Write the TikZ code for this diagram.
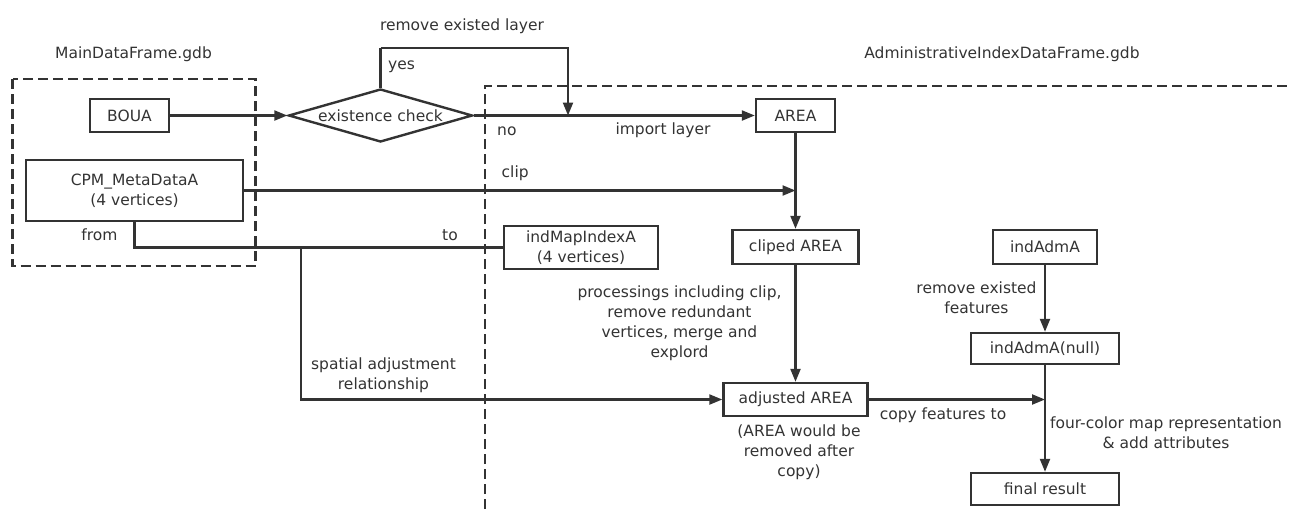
\documentclass[tikz,border=0pt]{standalone}
\usepackage{fontspec}
\setmainfont{DejaVu Sans}
\usetikzlibrary{arrows.meta,shapes.geometric}
\definecolor{ink}{HTML}{333333}
\begin{document}
\begin{tikzpicture}[x=1pt,y=-1pt,
  font=\fontsize{15.5}{20}\selectfont,
  every node/.style={text=ink},
  box/.style={draw=ink,line width=2.4pt,inner sep=0pt,align=center},
  conn/.style={draw=ink,line width=2.2pt},
  arr/.style={conn,-{Triangle[length=13pt,width=10pt]}},
  lbl/.style={inner sep=0pt,align=center},
  frame/.style={draw=ink,line width=2.2pt,dash pattern=on 10pt off 5pt}]
\useasboundingbox (0,0) rectangle (1291,509);
% dashed containers
\draw[frame] (12.5,79) rectangle (255.5,266);
\draw[frame] (485,509) -- (485,86) -- (1291,86);
% nodes
\node[box,minimum width=79,minimum height=33] (boua) at (129.5,115.5) {BOUA};
\node[draw=ink,line width=2.4pt,diamond,inner sep=0pt,minimum width=184,minimum height=53,
      label={[text=ink]center:existence check}] (dia) at (380.5,115.5) {};
\node[box,minimum width=79,minimum height=33] (area) at (795.5,115.5) {AREA};
\node[box,minimum width=217,minimum height=61] (cpm) at (134.5,190.5) {CPM\_MetaDataA\\(4 vertices)};
\node[box,minimum width=154,minimum height=43] (imi) at (581,247.5) {indMapIndexA\\(4 vertices)};
\node[box,minimum width=126,minimum height=34] (clp) at (795.5,247) {cliped AREA};
\node[box,minimum width=104,minimum height=34] (ind) at (1045,247) {indAdmA};
\node[box,minimum width=144,minimum height=33] (adj) at (795.5,399.5) {adjusted AREA};
\node[box,minimum width=148,minimum height=31] (indn) at (1045,348.5) {indAdmA(null)};
\node[box,minimum width=148,minimum height=32] (fin) at (1045,489) {final result};
% junction coordinates
\coordinate (top) at (380.5,48);
\coordinate (j1) at (568,115.5);
\coordinate (j2) at (795.5,190.5);
\coordinate (j3) at (301,247.5);
\coordinate (j4) at (1045,399.5);
% connectors
\draw[arr] (boua.east) -- (dia.west);
\draw[arr] (dia.east) -- (area.west);
\draw[conn] (dia.north) -- (top);
\draw[arr] (top) -| (j1);
\draw[arr] (cpm.east) -- (j2);
\draw[arr] (area.south) -- (clp.north);
\draw[conn] (cpm.south) |- (imi.west);
\draw[arr] (j3) |- (adj.west);
\draw[arr] (clp.south) -- (adj.north);
\draw[arr] (ind.south) -- (indn.north);
\draw[arr] (adj.east) -- (j4);
\draw[arr] (indn.south) -- (fin.north);
% labels
\node[lbl] (lremove) at (462,26) {remove existed layer};
\node[lbl] (lmain) at (133.5,54) {MainDataFrame.gdb};
\node[lbl] (ladmin) at (1002,54) {AdministrativeIndexDataFrame.gdb};
\node[lbl,anchor=west] (lyes) at (388,67) {yes};
\node[lbl,anchor=west] (lno) at (497,131) {no};
\node[lbl] (limport) at (663,130) {import layer};
\node[lbl,anchor=west] (lclip) at (501.5,173) {clip};
\node[lbl] (lfrom) at (99.5,235) {from};
\node[lbl] (lto) at (450,235) {to};
\node[lbl] (lspatial) at (383.5,375) {spatial adjustment\\relationship};
\node[lbl] (lproc) at (679.5,323.5) {processings including clip,\\remove redundant\\vertices, merge and\\explord};
\node[lbl] (lrmf) at (976.5,298) {remove existed\\features};
\node[lbl] (lcopy) at (943,415) {copy features to};
\node[lbl] (lfour) at (1166,433) {four-color map representation\\\& add attributes};
\node[lbl] (larea) at (799,452) {(AREA would be\\removed after\\copy)};
\end{tikzpicture}
\end{document}
